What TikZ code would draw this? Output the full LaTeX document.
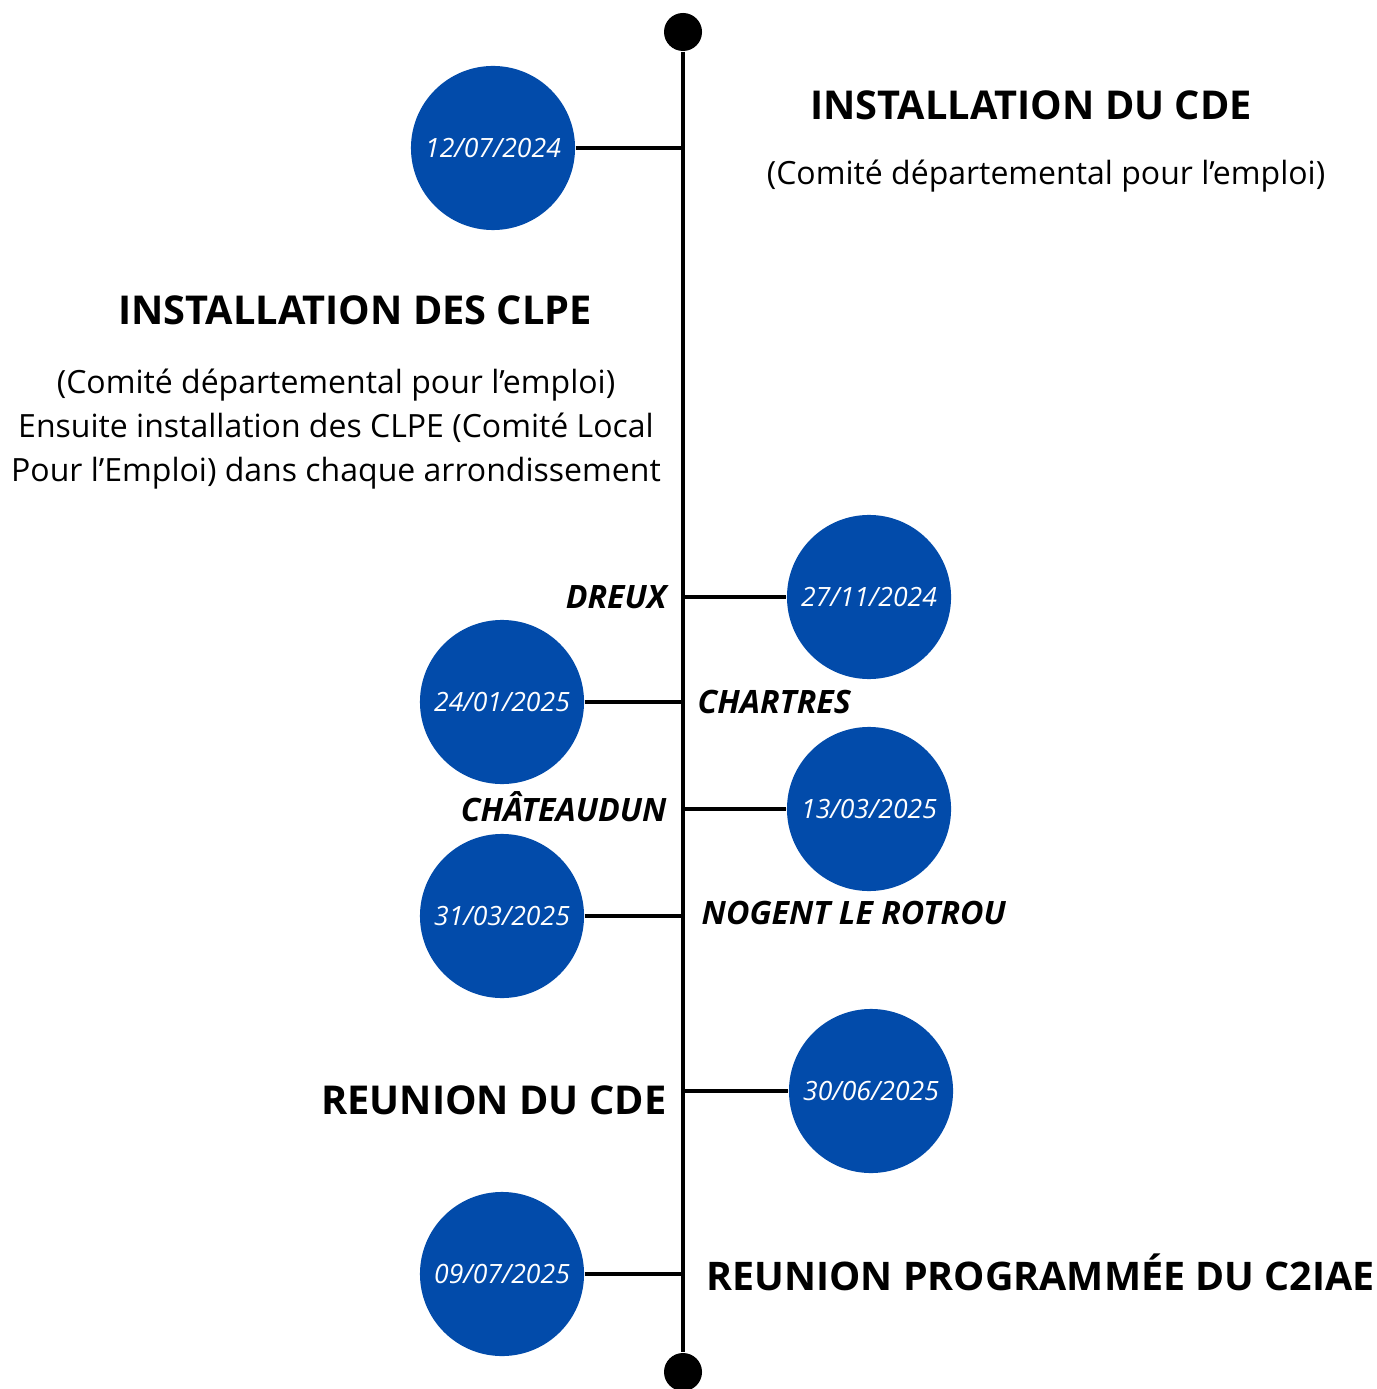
\documentclass[tikz,border=0pt]{standalone}
\usepackage{fontspec}
\setmainfont{Open Sans}
\usetikzlibrary{positioning}
\definecolor{datebleu}{RGB}{2,75,170}
\tikzstyle{datenode}=[circle, fill=datebleu, minimum size=1.64cm, inner sep=0pt, text=white, font=\fontsize{7.55}{9}\selectfont\itshape]
\tikzstyle{dot}=[circle, fill=black, minimum size=0.38cm, inner sep=0pt]
\tikzstyle{branch}=[draw=black, line width=1.1pt]
\tikzstyle{titre}=[font=\fontsize{11.3}{13}\selectfont\bfseries, inner sep=0pt]
\tikzstyle{ville}=[font=\fontsize{9.15}{11}\selectfont\bfseries\itshape, inner sep=0pt]
\tikzstyle{note}=[font=\fontsize{9.1}{12.5}\selectfont, inner sep=0pt, align=center]

\begin{document}
\begin{tikzpicture}[x=0.01cm, y=-0.01cm]
            \useasboundingbox (0,0) rectangle (1377,1389);

            % axe
            \node[dot] (haut) at (683,32) {};
            \node[dot] (bas) at (683,1372) {};
            \path[branch] (haut) -- (bas);

            \begin{scope}
                \coordinate (a1) at (683,148);
                \coordinate (a2) at (683,597);
                \coordinate (a3) at (683,702);
                \coordinate (a4) at (683,809);
                \coordinate (a5) at (683,916);
                \coordinate (a6) at (683,1091);
                \coordinate (a7) at (683,1274);
            \end{scope}

            \begin{scope}[every node/.style={datenode}]
                \node (d1) at (493,148) {12/07/2024};
                \node (d2) at (869,597) {27/11/2024};
                \node (d3) at (502,702) {24/01/2025};
                \node (d4) at (869,809) {13/03/2025};
                \node (d5) at (502,916) {31/03/2025};
                \node (d6) at (871,1091) {30/06/2025};
                \node (d7) at (502,1274) {09/07/2025};
            \end{scope}

            \begin{scope}[every path/.style={branch}]
                \path (d1) -- (a1);
                \path (a2) -- (d2);
                \path (d3) -- (a3);
                \path (a4) -- (d4);
                \path (d5) -- (a5);
                \path (a6) -- (d6);
                \path (d7) -- (a7);
            \end{scope}

            % textes
            \node[titre] (t1) at (1031,105) {INSTALLATION DU CDE};
            \node[note] (n1) at (1046,176) {(Comité départemental pour l’emploi)};
            \node[titre] (t2) at (355,310) {INSTALLATION DES CLPE};
            \node[note] (n2) at (336,429) {(Comité départemental pour l’emploi)\\Ensuite installation des CLPE (Comité Local\\Pour l’Emploi) dans chaque arrondissement};

            \begin{scope}[every node/.style={ville}]
                \node[anchor=east] (v1) at (667,597) {DREUX};
                \node[anchor=west] (v2) at (697,702) {CHARTRES};
                \node[anchor=east] (v3) at (667,807) {CHÂTEAUDUN};
                \node[anchor=west] (v4) at (701,913) {NOGENT LE ROTROU};
            \end{scope}

            \node[titre, anchor=east] (t3) at (667,1100) {REUNION DU CDE};
            \node[titre, anchor=west, font=\fontsize{11.2}{13}\selectfont\bfseries] (t4) at (706,1272) {REUNION PROGRAMMÉE DU C2IAE};
        \end{tikzpicture}
\end{document}
